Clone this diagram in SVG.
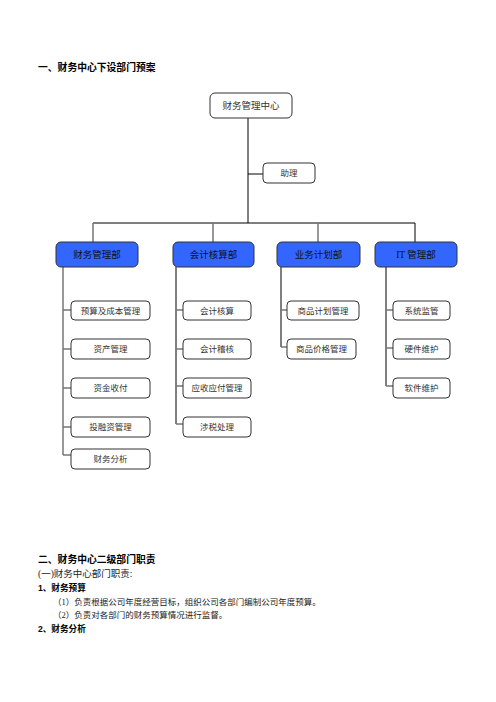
<svg xmlns="http://www.w3.org/2000/svg" width="496" height="702" viewBox="0 0 496 702">
<style>
.bg{fill:#fff}
.box{fill:#fff;stroke:#333;stroke-width:1}
.dept{fill:#3366ff;stroke:#333;stroke-width:1}
.t{font-family:"Liberation Serif","Noto Sans CJK SC",serif;text-anchor:middle;fill:#333}
.tn{font-size:9.5px}
.ts{font-size:8.5px}
.td{font-size:9.5px;fill:#111}
.h{font-family:"Liberation Sans","Noto Sans CJK SC",sans-serif;font-weight:bold;fill:#000}
.p{font-family:"Liberation Serif","Noto Sans CJK SC",serif;fill:#222}
.lk{stroke:#000;stroke-width:1;fill:none}
.lg{stroke:#777;stroke-width:1.5;fill:none}
</style>
<rect class="bg" width="496" height="702"/>
<text class="h" x="38" y="71" font-size="9.8">一、财务中心下设部门预案</text>

<g id="connectors">
<path class="lk" d="M248 118V223M248 174H263M93 223H415V242"/>
<path class="lg" d="M93 223V242M213 223V242M318 223V242"/>
<path class="lg" d="M63 267V455M63 310H71M63 349H71M63 388H71M63 427H71M63 455H71"/>
<path class="lk" d="M176 267V424"/>
<path class="lg" d="M176 310H183M176 349H183M176 386H183M176 424H183"/>
<path class="lk" d="M281 267V347"/>
<path class="lg" d="M281 310H287M281 347H287"/>
<path class="lk" d="M386 267V386"/>
<path class="lg" d="M386 310H393M386 348H393M386 386H393"/>
</g>

<g id="n-center"><rect class="box" x="210" y="93" width="82" height="25" rx="5"/><text class="t tn" x="251" y="109">财务管理中心</text></g>
<g id="n-assist"><rect class="box" x="263" y="163" width="52" height="20" rx="4"/><text class="t ts" x="289" y="176">助理</text></g>

<g id="d-fin"><rect class="dept" x="56" y="242" width="82" height="25" rx="5"/><text class="t td" x="97" y="258">财务管理部</text></g>
<g id="d-acc"><rect class="dept" x="173" y="242" width="81" height="25" rx="5"/><text class="t td" x="213.5" y="258">会计核算部</text></g>
<g id="d-biz"><rect class="dept" x="277" y="242" width="83" height="25" rx="5"/><text class="t td" x="318.5" y="258">业务计划部</text></g>
<g id="d-it"><rect class="dept" x="375" y="242" width="82" height="25" rx="5"/><text class="t td" x="416" y="258">IT 管理部</text></g>

<g id="s1"><rect class="box" x="71" y="301" width="79" height="19" rx="4"/><text class="t ts" x="110.5" y="313.5">预算及成本管理</text></g>
<g id="s2"><rect class="box" x="71" y="339" width="79" height="20" rx="4"/><text class="t ts" x="110.5" y="352">资产管理</text></g>
<g id="s3"><rect class="box" x="71" y="378" width="79" height="20" rx="4"/><text class="t ts" x="110.5" y="391">资金收付</text></g>
<g id="s4"><rect class="box" x="71" y="417" width="79" height="20" rx="4"/><text class="t ts" x="110.5" y="430">投融资管理</text></g>
<g id="s5"><rect class="box" x="71" y="449" width="79" height="20" rx="4"/><text class="t ts" x="110.5" y="462">财务分析</text></g>

<g id="s6"><rect class="box" x="183" y="301" width="68" height="19" rx="4"/><text class="t ts" x="217" y="313.5">会计核算</text></g>
<g id="s7"><rect class="box" x="183" y="339" width="68" height="20" rx="4"/><text class="t ts" x="217" y="352">会计稽核</text></g>
<g id="s8"><rect class="box" x="183" y="378" width="68" height="20" rx="4"/><text class="t ts" x="217" y="391">应收应付管理</text></g>
<g id="s9"><rect class="box" x="183" y="417" width="68" height="20" rx="4"/><text class="t ts" x="217" y="430">涉税处理</text></g>

<g id="s10"><rect class="box" x="287" y="301" width="72" height="19" rx="4"/><text class="t ts" x="323" y="313.5">商品计划管理</text></g>
<g id="s11"><rect class="box" x="287" y="339" width="69" height="20" rx="4"/><text class="t ts" x="321.5" y="352">商品价格管理</text></g>

<g id="s12"><rect class="box" x="393" y="301" width="57" height="19" rx="4"/><text class="t ts" x="421.5" y="313.5">系统监管</text></g>
<g id="s13"><rect class="box" x="393" y="339" width="57" height="20" rx="4"/><text class="t ts" x="421.5" y="352">硬件维护</text></g>
<g id="s14"><rect class="box" x="393" y="378" width="57" height="20" rx="4"/><text class="t ts" x="421.5" y="391">软件维护</text></g>

<text class="h" x="38" y="563" font-size="9.8">二、财务中心二级部门职责</text>
<text class="p" x="38" y="577" font-size="9.5">(一)财务中心部门职责:</text>
<text class="h" x="38" y="591" font-size="8.6">1、财务预算</text>
<text class="p" x="53" y="605" font-size="8.5">（1）负责根据公司年度经营目标，组织公司各部门编制公司年度预算。</text>
<text class="p" x="53" y="618" font-size="8.5">（2）负责对各部门的财务预算情况进行监督。</text>
<text class="h" x="38" y="632" font-size="8.6">2、财务分析</text>
</svg>
